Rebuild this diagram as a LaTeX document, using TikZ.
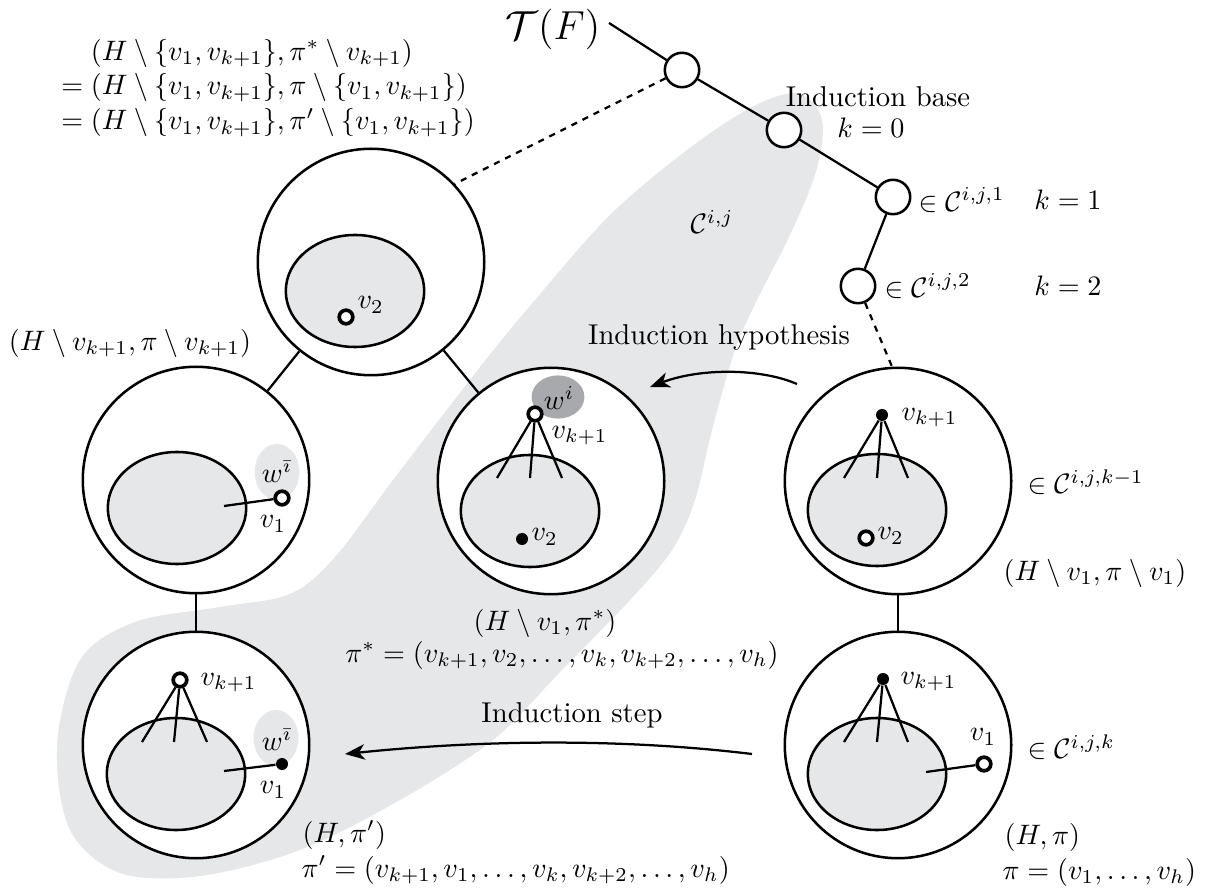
\documentclass[tikz,border=0pt]{standalone}
\usepackage{amsmath,amssymb}
\usetikzlibrary{arrows.meta,shapes.geometric}
\definecolor{lgray}{RGB}{230,231,232}
\definecolor{dgray}{RGB}{167,169,172}
\begin{document}
\begin{tikzpicture}[x=0.0125cm,y=-0.0125cm,
  font=\fontsize{10.2pt}{12.4pt}\selectfont,
  bigc/.style={draw, circle, line width=0.9pt, minimum size=2.83cm, inner sep=0pt, fill=white},
  inell/.style={draw, ellipse, line width=0.9pt, minimum width=1.73cm, minimum height=1.4cm, inner sep=0pt, fill=lgray},
  tnode/.style={draw, circle, line width=0.9pt, minimum size=0.43cm, inner sep=0pt, fill=white},
  odot/.style={draw, circle, line width=1.3pt, minimum size=0.17cm, inner sep=0pt, fill=white},
  fdot/.style={circle, fill=black, minimum size=0.15cm, inner sep=0pt},
  edge/.style={line width=0.8pt},
  dline/.style={line width=0.8pt, dash pattern=on 2.2pt off 2.2pt},
  arr/.style={line width=0.8pt, -{Stealth[length=7pt,width=5.5pt,inset=2pt]}},
  lbl/.style={inner sep=0pt},
]
\useasboundingbox (0,0) rectangle (1211,892);
% gray region C^{i,j}
\fill[lgray] plot[smooth cycle, tension=0.55] coordinates {
 (793,93) (815,105) (823,130) (815,175) (790,235) (757,300) (735,350) (712,430)
 (695,500) (672,550) (630,600) (560,672) (493,740) (400,800) (300,850) (200,876)
 (120,873) (70,830) (57,745) (80,660) (135,622) (220,607) (290,594) (335,557)
 (393,480) (480,367) (535,300) (610,215) (687,150) (750,108)};

% tree
\node[lbl,font=\Large] (TF) at (553,29) {$\mathcal{T}(F)$};
\coordinate (TFe) at (609,23);
\node[tnode] (c1) at (682,70) {};
\node[tnode] (c2) at (784,130) {};
\node[tnode] (c3) at (893,197) {};
\node[tnode] (c4) at (858,286) {};
\draw[edge] (TFe) -- (c1);
\draw[edge] (c1) -- (c2);
\draw[edge] (c2) -- (c3);
\draw[edge] (c3) -- (c4);
\node[lbl] (ib) at (878,97) {Induction base};
\node[lbl] (k0) at (871,128) {$k=0$};
\node[lbl,anchor=west] (e1) at (918,200) {$\in\mathcal{C}^{i,j,1}$};
\node[lbl] (k1) at (1068,200) {$k=1$};
\node[lbl,anchor=west] (e2) at (884,286) {$\in\mathcal{C}^{i,j,2}$};
\node[lbl] (k2) at (1068,286) {$k=2$};
\node[lbl] (cij) at (712,222) {$\mathcal{C}^{i,j}$};

% formula block
\node[lbl] (eq) at (268,88) {$\begin{array}{@{}r@{\;}l@{}}
 & (H\setminus\{v_1,v_{k+1}\},\pi^*\setminus v_{k+1})\\
 = & (H\setminus\{v_1,v_{k+1}\},\pi\setminus\{v_1,v_{k+1}\})\\
 = & (H\setminus\{v_1,v_{k+1}\},\pi'\setminus\{v_1,v_{k+1}\})
\end{array}$};

% top circle
\node[bigc] (A) at (371,262) {};
\node[inell] (Ae) at (355,291) {};
\node[odot] (Av2) at (346,317) {};
\node[lbl,anchor=west] (Av2l) at (357,305) {$v_2$};

% left circle
\node[bigc] (L) at (196,480) {};
\node[inell] (Le) at (177,508) {};
\fill[lgray] (277,472) ellipse [x radius=0.28cm, y radius=0.35cm];
\node[lbl] (Lw) at (277,472) {$w^{\bar{\imath}}$};
\node[odot] (Lv1) at (282,498) {};
\coordinate (Lin) at (224,506);
\draw[edge] (Lin) -- (Lv1);
\node[lbl] (Lv1l) at (273,524) {$v_1$};
\node[lbl] (Ltxt) at (130,343) {$(H\setminus v_{k+1},\pi\setminus v_{k+1})$};

% middle circle
\node[bigc] (M) at (551,481) {};
\node[inell] (Me) at (530,511) {};
\fill[dgray] (558,397) ellipse [x radius=0.33cm, y radius=0.27cm];
\node[lbl] (Mw) at (559,398) {$w^{i}$};
\node[odot] (Mv) at (535,414) {};
\coordinate (Ma) at (497,478);
\coordinate (Mb) at (530,478);
\coordinate (Mc) at (562,478);
\draw[edge] (Mv) -- (Ma);
\draw[edge] (Mv) -- (Mb);
\draw[edge] (Mv) -- (Mc);
\node[lbl,anchor=west] (Mvl) at (551,436) {$v_{k+1}$};
\node[fdot] (Mv2) at (522,539) {};
\node[lbl,anchor=west] (Mv2l) at (531,537) {$v_2$};

% right circle
\node[bigc] (R) at (898,481) {};
\node[inell] (Re) at (877,510) {};
\node[fdot] (Rv) at (882,415) {};
\coordinate (Ra) at (844,478);
\coordinate (Rb) at (877,478);
\coordinate (Rc) at (908,478);
\draw[edge] (Rv) -- (Ra);
\draw[edge] (Rv) -- (Rb);
\draw[edge] (Rv) -- (Rc);
\node[lbl,anchor=west] (Rvl) at (901,418) {$v_{k+1}$};
\node[odot] (Rv2) at (866,538) {};
\node[lbl,anchor=west] (Rv2l) at (877,536) {$v_2$};
\node[lbl,anchor=west] (Rin) at (1027,482) {$\in\mathcal{C}^{i,j,k-1}$};
\node[lbl,anchor=west] (Rtxt) at (1003,573) {$(H\setminus v_1,\pi\setminus v_1)$};

% bottom-left circle
\node[bigc] (BL) at (196,745) {};
\node[inell] (BLe) at (176,774) {};
\fill[lgray] (276,738) ellipse [x radius=0.28cm, y radius=0.35cm];
\node[lbl] (BLw) at (277,740) {$w^{\bar{\imath}}$};
\node[odot] (BLv) at (180,680) {};
\coordinate (BLa) at (142,742);
\coordinate (BLb) at (174,742);
\coordinate (BLc) at (207,742);
\draw[edge] (BLv) -- (BLa);
\draw[edge] (BLv) -- (BLb);
\draw[edge] (BLv) -- (BLc);
\node[lbl,anchor=west] (BLvl) at (200,683) {$v_{k+1}$};
\node[fdot] (BLv1) at (282,764) {};
\coordinate (BLin) at (224,771);
\draw[edge] (BLin) -- (BLv1);
\node[lbl] (BLv1l) at (273,790) {$v_1$};
\node[lbl,anchor=west] (BLt1) at (302,835) {$(H,\pi')$};
\node[lbl,anchor=west] (BLt2) at (301,870) {$\pi'=(v_{k+1},v_1,\dots,v_k,v_{k+2},\dots,v_h)$};

% bottom-right circle
\node[bigc] (BR) at (898,745) {};
\node[inell] (BRe) at (877,774) {};
\node[fdot] (BRv) at (883,679) {};
\coordinate (BRa) at (844,742);
\coordinate (BRb) at (877,742);
\coordinate (BRc) at (908,742);
\draw[edge] (BRv) -- (BRa);
\draw[edge] (BRv) -- (BRb);
\draw[edge] (BRv) -- (BRc);
\node[lbl,anchor=west] (BRvl) at (900,682) {$v_{k+1}$};
\node[odot] (BRv1) at (984,764) {};
\coordinate (BRin) at (926,772);
\draw[edge] (BRin) -- (BRv1);
\node[lbl] (BRv1l) at (983,737) {$v_1$};
\node[lbl,anchor=west] (BRin2) at (1027,747) {$\in\mathcal{C}^{i,j,k}$};
\node[lbl,anchor=west] (BRt1) at (1004,837) {$(H,\pi)$};
\node[lbl,anchor=west] (BRt2) at (1002,872) {$\pi=(v_1,\dots,v_h)$};

% middle texts
\node[lbl] (Mt1) at (545,623) {$(H\setminus v_1,\pi^*)$};
\node[lbl] (Mt2) at (562,655) {$\pi^*=(v_{k+1},v_2,\dots,v_k,v_{k+2},\dots,v_h)$};

% tree edges between circles
\draw[edge] (A) -- (L);
\draw[edge] (A) -- (M);
\draw[edge] (L) -- (BL);
\draw[edge] (R) -- (BR);
\draw[dline] (c1) -- (A.43);
\draw[dline] (c4) -- (R.93);

% arrows
\node[lbl] (ih) at (719,337) {Induction hypothesis};
\coordinate (h1) at (797,384);
\coordinate (h2) at (650,387);
\draw[arr] (h1) .. controls (760,368) and (700,368) .. (h2);
\node[lbl] (is) at (572,715) {Induction step};
\coordinate (s1) at (752,754);
\coordinate (s2) at (345,754);
\draw[arr] (s1) .. controls (620,738) and (480,740) .. (s2);
\end{tikzpicture}
\end{document}
